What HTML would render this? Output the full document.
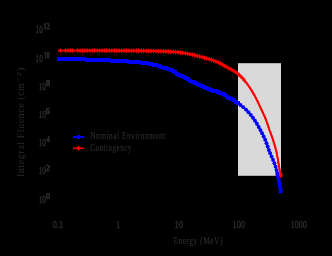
<!DOCTYPE html>
<html><head><meta charset="utf-8">
<style>
html,body{margin:0;padding:0;background:#000;width:332px;height:256px;overflow:hidden}
svg{display:block}
text{font-family:"Liberation Serif",serif;fill:#2e2e2e;stroke:#2e2e2e;stroke-width:0.15}
.tx{will-change:transform}
.dg{stroke-width:0.4px}
.sp{stroke-width:0.7px}
</style></head><body>
<svg width="332" height="256" viewBox="0 0 332 256">
<rect x="0" y="0" width="332" height="256" fill="#000"/>
<rect x="238" y="63.2" width="43" height="112.6" fill="#d9d9d9"/>
<g class="tx" opacity="0.999">
<text transform="translate(35.68,33.00) scale(0.646,1)" font-size="11.00" class="dg">10</text>
<text transform="translate(43.56,29.20) scale(0.860,1)" font-size="7.20" class="sp">12</text>
<text transform="translate(35.57,61.50) scale(0.651,1)" font-size="11.00" class="dg">10</text>
<text transform="translate(44.12,57.70) scale(0.764,1)" font-size="7.20" class="sp">10</text>
<text transform="translate(38.65,89.50) scale(0.666,1)" font-size="11.00" class="dg">10</text>
<text transform="translate(45.89,85.70) scale(1.116,1)" font-size="7.20" class="sp">8</text>
<text transform="translate(38.64,117.90) scale(0.677,1)" font-size="11.00" class="dg">10</text>
<text transform="translate(45.86,114.10) scale(1.109,1)" font-size="7.20" class="sp">6</text>
<text transform="translate(38.65,146.00) scale(0.666,1)" font-size="11.00" class="dg">10</text>
<text transform="translate(46.47,142.20) scale(0.900,1)" font-size="7.20" class="sp">4</text>
<text transform="translate(38.65,174.30) scale(0.666,1)" font-size="11.00" class="dg">10</text>
<text transform="translate(45.83,170.50) scale(1.181,1)" font-size="7.20" class="sp">2</text>
<text transform="translate(38.65,202.60) scale(0.674,1)" font-size="11.00" class="dg">10</text>
<text transform="translate(45.89,198.80) scale(1.116,1)" font-size="7.20" class="sp">0</text>
<text transform="translate(52.79,228.00) scale(0.756,1)" font-size="10.80" class="dg">0.1</text>
<text transform="translate(116.36,228.00) scale(0.725,1)" font-size="10.80" class="dg">1</text>
<text transform="translate(174.44,228.00) scale(0.795,1)" font-size="10.80" class="dg">10</text>
<text transform="translate(232.46,228.00) scale(0.776,1)" font-size="10.80" class="dg">100</text>
<text transform="translate(290.79,228.00) scale(0.746,1)" font-size="10.80" class="dg">1000</text>
<text transform="translate(173.39,244.20) scale(0.755,1)" font-size="9.80" letter-spacing="0.7" >Energy (MeV)</text>
<text transform="translate(90.29,139.10) scale(0.761,1)" font-size="9.60" letter-spacing="0.7" >Nominal Environment</text>
<text transform="translate(90.21,150.50) scale(0.735,1)" font-size="9.60" letter-spacing="0.7" >Contingency</text>
<text transform="rotate(-90) translate(-176.95,24.30) scale(0.971,1)" font-size="10.00" letter-spacing="0.7" style="stroke-width:0">Integral Fluence (cm</text>
<text transform="rotate(-90) translate(-82.29,21.00) scale(1.517,1)" font-size="6.40" style="stroke-width:0">−2</text>
<text transform="rotate(-90) translate(-70.92,24.20) scale(1.080,1)" font-size="9.40" style="stroke-width:0">)</text>
</g>
<line x1="73" y1="137" x2="84.2" y2="137" stroke="#0000ff" stroke-width="2"/>
<rect x="76.8" y="135" width="3.6" height="4" rx="1" fill="#0000ff"/>
<line x1="73" y1="148.3" x2="84.2" y2="148.3" stroke="#ff0000" stroke-width="1.5"/>
<path d="M78.5 145.6 L80.7 148.3 L78.5 151 L76.3 148.3Z" fill="#ff0000"/>
<path d="M59.18 59.20 L59.31 59.20 L59.45 59.20 L59.60 59.20 L59.76 59.20 L59.93 59.20 L60.11 59.20 L60.30 59.20 L60.50 59.20 L60.71 59.20 L60.93 59.21 L61.16 59.21 L61.40 59.21 L61.66 59.21 L61.91 59.21 L62.16 59.21 L62.41 59.21 L62.66 59.21 L62.91 59.21 L63.16 59.21 L63.41 59.22 L63.66 59.22 L63.91 59.22 L64.16 59.22 L64.41 59.22 L64.66 59.22 L64.91 59.23 L65.16 59.23 L65.41 59.23 L65.66 59.23 L65.91 59.23 L66.16 59.23 L66.41 59.24 L66.66 59.24 L66.91 59.24 L67.16 59.24 L67.41 59.25 L67.66 59.25 L67.91 59.25 L68.16 59.25 L68.41 59.25 L68.67 59.26 L68.92 59.26 L69.17 59.26 L69.42 59.26 L69.67 59.27 L69.92 59.27 L70.17 59.27 L70.42 59.28 L70.67 59.28 L70.92 59.28 L71.17 59.28 L71.42 59.29 L71.67 59.29 L71.92 59.29 L72.17 59.30 L72.42 59.30 L72.67 59.30 L72.92 59.30 L73.17 59.31 L73.42 59.31 L73.67 59.31 L73.92 59.32 L74.17 59.32 L74.42 59.32 L74.67 59.33 L74.92 59.33 L75.17 59.33 L75.42 59.34 L75.67 59.34 L75.92 59.34 L76.18 59.35 L76.43 59.35 L76.68 59.35 L76.93 59.36 L77.18 59.36 L77.43 59.36 L77.68 59.37 L77.93 59.37 L78.18 59.37 L78.43 59.38 L78.68 59.38 L78.93 59.39 L79.18 59.39 L79.43 59.39 L79.68 59.40 L79.93 59.40 L80.18 59.40 L80.43 59.41 L80.68 59.41 L80.93 59.42 L81.18 59.42 L81.43 59.43 L81.68 59.43 L81.93 59.44 L82.18 59.44 L82.43 59.44 L82.68 59.45 L82.93 59.46 L83.18 59.46 L83.43 59.47 L83.68 59.47 L83.93 59.48 L84.18 59.48 L84.43 59.49 L84.69 59.49 L84.94 59.50 L85.19 59.51 L85.44 59.51 L85.69 59.52 L85.94 59.53 L86.19 59.53 L86.44 59.54 L86.69 59.55 L86.94 59.55 L87.19 59.56 L87.44 59.57 L87.69 59.57 L87.94 59.58 L88.19 59.59 L88.44 59.60 L88.69 59.60 L88.94 59.61 L89.19 59.62 L89.44 59.63 L89.69 59.63 L89.94 59.64 L90.19 59.65 L90.44 59.66 L90.69 59.67 L90.94 59.67 L91.19 59.68 L91.44 59.69 L91.69 59.70 L91.94 59.71 L92.19 59.72 L92.44 59.73 L92.69 59.73 L92.94 59.74 L93.19 59.75 L93.44 59.76 L93.69 59.77 L93.94 59.78 L94.19 59.79 L94.45 59.80 L94.70 59.80 L94.95 59.81 L95.20 59.82 L95.45 59.83 L95.70 59.84 L95.95 59.85 L96.20 59.86 L96.45 59.87 L96.70 59.88 L96.95 59.89 L97.20 59.90 L97.45 59.91 L97.70 59.91 L97.95 59.92 L98.20 59.93 L98.45 59.94 L98.70 59.95 L98.95 59.96 L99.20 59.97 L99.45 59.98 L99.70 59.99 L99.95 60.00 L100.20 60.01 L100.45 60.02 L100.70 60.03 L100.95 60.04 L101.20 60.05 L101.45 60.06 L101.70 60.07 L101.95 60.08 L102.20 60.09 L102.45 60.10 L102.70 60.11 L102.95 60.12 L103.20 60.13 L103.45 60.14 L103.70 60.15 L103.95 60.16 L104.20 60.17 L104.45 60.18 L104.70 60.19 L104.95 60.20 L105.20 60.21 L105.45 60.22 L105.70 60.23 L105.95 60.24 L106.20 60.25 L106.45 60.27 L106.70 60.28 L106.95 60.29 L107.20 60.30 L107.45 60.31 L107.70 60.32 L107.95 60.33 L108.20 60.34 L108.45 60.36 L108.70 60.37 L108.95 60.38 L109.20 60.39 L109.45 60.40 L109.70 60.41 L109.95 60.43 L110.20 60.44 L110.45 60.45 L110.70 60.46 L110.95 60.48 L111.21 60.49 L111.46 60.50 L111.71 60.51 L111.96 60.52 L112.21 60.54 L112.46 60.55 L112.71 60.56 L112.96 60.58 L113.21 60.59 L113.46 60.60 L113.71 60.61 L113.96 60.63 L114.21 60.64 L114.46 60.65 L114.71 60.67 L114.96 60.68 L115.21 60.69 L115.46 60.71 L115.71 60.72 L115.96 60.73 L116.21 60.75 L116.46 60.76 L116.71 60.77 L116.96 60.79 L117.21 60.80 L117.46 60.82 L117.71 60.83 L117.96 60.84 L118.21 60.86 L118.46 60.87 L118.71 60.89 L118.96 60.90 L119.21 60.92 L119.46 60.93 L119.71 60.94 L119.96 60.96 L120.21 60.97 L120.46 60.99 L120.71 61.00 L120.96 61.02 L121.20 61.03 L121.45 61.05 L121.70 61.06 L121.95 61.08 L122.20 61.09 L122.45 61.11 L122.70 61.12 L122.95 61.14 L123.20 61.15 L123.45 61.17 L123.70 61.18 L123.95 61.20 L124.20 61.21 L124.45 61.23 L124.70 61.24 L124.95 61.26 L125.20 61.28 L125.45 61.29 L125.70 61.31 L125.95 61.32 L126.20 61.34 L126.45 61.36 L126.70 61.37 L126.95 61.39 L127.20 61.40 L127.45 61.42 L127.70 61.44 L127.95 61.45 L128.20 61.47 L128.45 61.49 L128.70 61.50 L128.95 61.52 L129.20 61.54 L129.45 61.55 L129.70 61.57 L129.95 61.59 L130.21 61.61 L130.46 61.62 L130.71 61.64 L130.96 61.66 L131.21 61.68 L131.46 61.69 L131.71 61.71 L131.96 61.73 L132.21 61.75 L132.46 61.77 L132.71 61.79 L132.95 61.81 L133.20 61.83 L133.45 61.85 L133.70 61.87 L133.95 61.89 L134.20 61.91 L134.45 61.93 L134.70 61.95 L134.95 61.97 L135.20 61.99 L135.45 62.01 L135.70 62.03 L135.95 62.06 L136.20 62.08 L136.45 62.10 L136.70 62.12 L136.95 62.15 L137.19 62.17 L137.44 62.19 L137.69 62.22 L137.94 62.24 L138.19 62.27 L138.44 62.29 L138.69 62.32 L138.94 62.34 L139.18 62.37 L139.43 62.39 L139.68 62.42 L139.93 62.45 L140.18 62.48 L140.43 62.51 L140.67 62.53 L140.92 62.56 L141.17 62.59 L141.42 62.62 L141.67 62.66 L141.91 62.69 L142.16 62.72 L142.41 62.75 L142.66 62.79 L142.90 62.82 L143.15 62.86 L143.40 62.89 L143.65 62.93 L143.89 62.96 L144.14 63.00 L144.39 63.04 L144.64 63.08 L144.89 63.12 L145.13 63.16 L145.38 63.20 L145.63 63.24 L145.87 63.28 L146.12 63.32 L146.37 63.37 L146.62 63.41 L146.86 63.45 L147.11 63.50 L147.36 63.54 L147.60 63.59 L147.85 63.63 L148.10 63.68 L148.34 63.73 L148.59 63.78 L148.84 63.82 L149.08 63.87 L149.33 63.92 L149.58 63.97 L149.82 64.02 L150.07 64.07 L150.31 64.12 L150.56 64.17 L150.81 64.22 L151.05 64.27 L151.30 64.33 L151.54 64.38 L151.79 64.43 L152.03 64.48 L152.28 64.54 L152.52 64.59 L152.77 64.64 L153.01 64.70 L153.26 64.75 L153.50 64.81 L153.74 64.86 L153.99 64.92 L154.23 64.97 L154.48 65.03 L154.72 65.09 L154.96 65.14 L155.21 65.20 L155.45 65.26 L155.69 65.32 L155.93 65.38 L156.18 65.43 L156.42 65.49 L156.66 65.55 L156.91 65.61 L157.15 65.67 L157.39 65.74 L157.63 65.80 L157.87 65.86 L158.12 65.92 L158.36 65.99 L158.60 66.05 L158.84 66.12 L159.08 66.18 L159.33 66.25 L159.57 66.32 L159.81 66.38 L160.05 66.45 L160.29 66.52 L160.53 66.59 L160.77 66.66 L161.01 66.73 L161.26 66.81 L161.50 66.88 L161.74 66.95 L161.98 67.03 L162.22 67.10 L162.46 67.18 L162.70 67.25 L162.93 67.33 L163.17 67.41 L163.41 67.49 L163.65 67.56 L163.89 67.64 L164.13 67.72 L164.36 67.80 L164.60 67.88 L164.84 67.97 L165.08 68.05 L165.31 68.13 L165.55 68.22 L165.78 68.30 L166.02 68.38 L166.25 68.47 L166.49 68.55 L166.72 68.64 L166.96 68.73 L167.19 68.82 L167.42 68.91 L167.65 69.00 L167.89 69.09 L168.12 69.18 L168.35 69.27 L168.58 69.36 L168.81 69.46 L169.04 69.55 L169.27 69.65 L169.50 69.75 L169.73 69.85 L169.95 69.95 L170.18 70.05 L170.41 70.15 L170.64 70.25 L170.86 70.36 L171.09 70.46 L171.31 70.57 L171.54 70.67 L171.76 70.78 L171.99 70.89 L172.21 71.00 L172.44 71.11 L172.66 71.23 L172.88 71.34 L173.11 71.45 L173.33 71.57 L173.55 71.68 L173.78 71.80 L174.00 71.91 L174.22 72.03 L174.44 72.15 L174.66 72.27 L174.88 72.38 L175.11 72.50 L175.33 72.62 L175.55 72.74 L175.77 72.86 L175.99 72.98 L176.21 73.10 L176.43 73.22 L176.65 73.34 L176.88 73.46 L177.10 73.58 L177.32 73.70 L177.54 73.82 L177.76 73.94 L177.98 74.06 L178.20 74.18 L178.42 74.29 L178.65 74.41 L178.87 74.53 L179.09 74.65 L179.31 74.77 L179.53 74.88 L179.75 75.00 L179.98 75.12 L180.20 75.23 L180.42 75.35 L180.64 75.47 L180.86 75.58 L181.09 75.70 L181.31 75.81 L181.53 75.93 L181.75 76.04 L181.98 76.16 L182.20 76.28 L182.42 76.39 L182.64 76.51 L182.87 76.62 L183.09 76.74 L183.31 76.85 L183.53 76.97 L183.76 77.08 L183.98 77.20 L184.20 77.31 L184.42 77.43 L184.64 77.54 L184.87 77.66 L185.09 77.77 L185.31 77.89 L185.53 78.01 L185.75 78.12 L185.98 78.24 L186.20 78.35 L186.42 78.47 L186.64 78.59 L186.86 78.70 L187.09 78.82 L187.31 78.93 L187.53 79.05 L187.75 79.16 L187.98 79.28 L188.20 79.39 L188.42 79.51 L188.64 79.63 L188.86 79.74 L189.09 79.86 L189.31 79.97 L189.53 80.09 L189.75 80.20 L189.98 80.32 L190.20 80.43 L190.42 80.55 L190.64 80.66 L190.87 80.77 L191.09 80.89 L191.31 81.00 L191.54 81.12 L191.76 81.23 L191.98 81.34 L192.20 81.46 L192.43 81.57 L192.65 81.68 L192.87 81.80 L193.10 81.91 L193.32 82.02 L193.55 82.13 L193.77 82.25 L193.99 82.36 L194.22 82.47 L194.44 82.58 L194.66 82.69 L194.89 82.80 L195.11 82.92 L195.34 83.03 L195.56 83.14 L195.79 83.25 L196.01 83.36 L196.24 83.47 L196.46 83.58 L196.69 83.69 L196.91 83.80 L197.14 83.91 L197.36 84.02 L197.59 84.13 L197.81 84.23 L198.04 84.34 L198.26 84.45 L198.49 84.56 L198.72 84.67 L198.94 84.78 L199.17 84.89 L199.39 84.99 L199.62 85.10 L199.85 85.21 L200.07 85.31 L200.30 85.42 L200.53 85.53 L200.75 85.63 L200.98 85.74 L201.21 85.84 L201.44 85.95 L201.66 86.05 L201.89 86.15 L202.12 86.26 L202.35 86.36 L202.58 86.46 L202.81 86.56 L203.04 86.66 L203.27 86.76 L203.50 86.85 L203.73 86.95 L203.96 87.05 L204.19 87.14 L204.42 87.24 L204.65 87.33 L204.89 87.42 L205.12 87.51 L205.35 87.61 L205.58 87.70 L205.82 87.78 L206.05 87.87 L206.29 87.96 L206.52 88.05 L206.76 88.13 L206.99 88.22 L207.23 88.31 L207.46 88.39 L207.70 88.48 L207.93 88.56 L208.17 88.64 L208.41 88.73 L208.64 88.81 L208.88 88.89 L209.11 88.98 L209.35 89.06 L209.59 89.15 L209.82 89.23 L210.06 89.31 L210.29 89.40 L210.53 89.48 L210.76 89.57 L211.00 89.66 L211.23 89.74 L211.47 89.83 L211.70 89.92 L211.94 90.00 L212.17 90.09 L212.41 90.18 L212.64 90.27 L212.87 90.36 L213.11 90.45 L213.34 90.54 L213.58 90.63 L213.81 90.72 L214.04 90.81 L214.27 90.91 L214.51 91.00 L214.74 91.09 L214.97 91.18 L215.21 91.28 L215.44 91.37 L215.67 91.46 L215.90 91.56 L216.14 91.65 L216.37 91.75 L216.60 91.84 L216.83 91.94 L217.07 92.03 L217.30 92.13 L217.53 92.22 L217.76 92.32 L218.00 92.41 L218.23 92.51 L218.46 92.61 L218.69 92.70 L218.92 92.80 L219.15 92.90 L219.39 93.00 L219.62 93.10 L219.85 93.19 L220.08 93.29 L220.31 93.39 L220.54 93.49 L220.77 93.59 L221.00 93.69 L221.23 93.79 L221.46 93.89 L221.69 93.99 L221.92 94.10 L222.15 94.20 L222.37 94.30 L222.60 94.40 L222.83 94.51 L223.06 94.61 L223.29 94.72 L223.51 94.82 L223.74 94.93 L223.97 95.03 L224.19 95.14 L224.42 95.24 L224.65 95.35 L224.87 95.46 L225.10 95.57 L225.32 95.67 L225.55 95.78 L225.77 95.89 L226.00 96.00 L226.22 96.11 L226.44 96.22 L226.66 96.34 L226.89 96.45 L227.11 96.56 L227.33 96.68 L227.55 96.79 L227.77 96.91 L227.99 97.02 L228.21 97.14 L228.43 97.26 L228.65 97.37 L228.87 97.49 L229.09 97.61 L229.31 97.73 L229.53 97.85 L229.75 97.97 L229.97 98.10 L230.18 98.22 L230.40 98.35 L230.62 98.47 L230.83 98.60 L231.05 98.72 L231.26 98.85 L231.48 98.98 L231.69 99.11 L231.91 99.24 L232.12 99.37 L232.34 99.50 L232.55 99.63 L232.77 99.76 L232.98 99.89 L233.19 100.02 L233.40 100.16 L233.62 100.29 L233.83 100.43 L234.04 100.56 L234.25 100.70 L234.46 100.83 L234.67 100.97 L234.88 101.11 L235.09 101.25 L235.30 101.38 L235.51 101.52 L235.72 101.66 L235.93 101.80 L236.14 101.94 L236.34 102.08 L236.55 102.22 L236.76 102.36 L236.97 102.50 L237.17 102.64 L237.38 102.78 L237.59 102.93 L237.79 103.07 L238.00 103.21 L238.21 103.35 L238.41 103.50 L238.62 103.64 L238.82 103.79 L239.03 103.93 L239.23 104.08 L239.44 104.22 L239.64 104.37 L239.85 104.51 L240.05 104.66 L240.25 104.81 L240.46 104.96 L240.66 105.10 L240.86 105.25 L241.06 105.40 L241.26 105.56 L241.46 105.71 L241.66 105.86 L241.86 106.01 L242.06 106.17 L242.26 106.32 L242.45 106.48 L242.65 106.63 L242.85 106.79 L243.04 106.95 L243.23 107.11 L243.42 107.27 L243.61 107.43 L243.80 107.59 L243.99 107.75 L244.18 107.91 L244.37 108.08 L244.55 108.24 L244.74 108.41 L244.92 108.58 L245.10 108.75 L245.28 108.92 L245.46 109.09 L245.64 109.26 L245.82 109.43 L246.00 109.61 L246.18 109.78 L246.35 109.96 L246.53 110.14 L246.70 110.31 L246.88 110.49 L247.05 110.67 L247.23 110.85 L247.40 111.03 L247.57 111.22 L247.74 111.40 L247.91 111.59 L248.08 111.77 L248.25 111.96 L248.42 112.14 L248.58 112.33 L248.75 112.52 L248.92 112.71 L249.08 112.90 L249.25 113.09 L249.41 113.28 L249.58 113.47 L249.74 113.67 L249.90 113.86 L250.06 114.05 L250.22 114.25 L250.38 114.44 L250.54 114.64 L250.70 114.83 L250.86 115.03 L251.01 115.23 L251.17 115.42 L251.33 115.62 L251.48 115.82 L251.63 116.02 L251.79 116.22 L251.94 116.42 L252.09 116.61 L252.24 116.81 L252.39 117.01 L252.54 117.22 L252.69 117.42 L252.84 117.62 L252.98 117.82 L253.13 118.02 L253.28 118.22 L253.42 118.43 L253.56 118.63 L253.71 118.83 L253.85 119.04 L253.99 119.24 L254.13 119.45 L254.27 119.65 L254.41 119.86 L254.55 120.07 L254.69 120.27 L254.83 120.48 L254.96 120.69 L255.10 120.90 L255.24 121.11 L255.37 121.32 L255.51 121.53 L255.64 121.74 L255.77 121.95 L255.91 122.16 L256.04 122.38 L256.17 122.59 L256.30 122.80 L256.43 123.02 L256.56 123.23 L256.69 123.45 L256.82 123.66 L256.95 123.88 L257.08 124.09 L257.21 124.31 L257.33 124.53 L257.46 124.74 L257.59 124.96 L257.71 125.18 L257.84 125.40 L257.96 125.62 L258.09 125.83 L258.21 126.05 L258.33 126.27 L258.46 126.49 L258.58 126.71 L258.70 126.93 L258.82 127.15 L258.94 127.37 L259.07 127.59 L259.19 127.81 L259.31 128.03 L259.43 128.25 L259.55 128.47 L259.67 128.69 L259.78 128.91 L259.90 129.14 L260.02 129.36 L260.14 129.58 L260.26 129.80 L260.38 130.02 L260.49 130.24 L260.61 130.46 L260.73 130.68 L260.84 130.91 L260.96 131.13 L261.08 131.35 L261.19 131.57 L261.31 131.79 L261.42 132.02 L261.54 132.24 L261.65 132.46 L261.77 132.68 L261.88 132.91 L261.99 133.13 L262.11 133.35 L262.22 133.58 L262.33 133.80 L262.45 134.02 L262.56 134.25 L262.67 134.47 L262.78 134.70 L262.89 134.92 L263.01 135.15 L263.12 135.37 L263.23 135.60 L263.34 135.82 L263.44 136.05 L263.55 136.27 L263.66 136.50 L263.77 136.73 L263.88 136.95 L263.98 137.18 L264.09 137.41 L264.19 137.64 L264.30 137.86 L264.40 138.09 L264.51 138.32 L264.61 138.55 L264.71 138.78 L264.82 139.00 L264.92 139.23 L265.02 139.46 L265.12 139.69 L265.22 139.92 L265.31 140.15 L265.41 140.38 L265.51 140.61 L265.60 140.84 L265.70 141.07 L265.79 141.31 L265.89 141.54 L265.98 141.77 L266.07 142.00 L266.16 142.23 L266.25 142.47 L266.34 142.70 L266.43 142.94 L266.51 143.17 L266.60 143.40 L266.69 143.64 L266.77 143.87 L266.85 144.11 L266.94 144.35 L267.02 144.58 L267.10 144.82 L267.18 145.06 L267.26 145.29 L267.34 145.53 L267.42 145.77 L267.50 146.00 L267.58 146.24 L267.66 146.48 L267.74 146.72 L267.82 146.96 L267.90 147.19 L267.98 147.43 L268.06 147.67 L268.14 147.91 L268.22 148.14 L268.30 148.38 L268.38 148.62 L268.46 148.86 L268.54 149.09 L268.62 149.33 L268.71 149.57 L268.79 149.80 L268.88 150.04 L268.96 150.27 L269.05 150.51 L269.13 150.74 L269.22 150.98 L269.31 151.21 L269.40 151.44 L269.49 151.68 L269.58 151.91 L269.67 152.14 L269.77 152.38 L269.86 152.61 L269.95 152.84 L270.05 153.07 L270.15 153.30 L270.24 153.53 L270.34 153.76 L270.44 153.99 L270.54 154.22 L270.64 154.45 L270.73 154.68 L270.83 154.91 L270.94 155.14 L271.04 155.37 L271.14 155.60 L271.24 155.83 L271.34 156.06 L271.44 156.29 L271.54 156.52 L271.65 156.75 L271.75 156.98 L271.85 157.21 L271.95 157.44 L272.05 157.66 L272.16 157.89 L272.26 158.12 L272.36 158.35 L272.46 158.58 L272.56 158.81 L272.66 159.04 L272.76 159.27 L272.86 159.50 L272.96 159.73 L273.06 159.96 L273.16 160.19 L273.26 160.42 L273.36 160.65 L273.45 160.88 L273.55 161.11 L273.64 161.34 L273.74 161.57 L273.83 161.81 L273.93 162.04 L274.02 162.27 L274.11 162.50 L274.20 162.74 L274.29 162.97 L274.38 163.20 L274.47 163.44 L274.55 163.67 L274.64 163.91 L274.73 164.14 L274.81 164.38 L274.90 164.61 L274.98 164.85 L275.06 165.08 L275.14 165.32 L275.22 165.56 L275.30 165.80 L275.38 166.03 L275.46 166.27 L275.53 166.51 L275.61 166.75 L275.68 166.99 L275.76 167.23 L275.83 167.47 L275.90 167.71 L275.97 167.95 L276.04 168.19 L276.11 168.43 L276.17 168.67 L276.24 168.91 L276.30 169.15 L276.37 169.39 L276.43 169.63 L276.49 169.88 L276.55 170.12 L276.61 170.36 L276.67 170.60 L276.73 170.85 L276.78 171.09 L276.84 171.34 L276.90 171.58 L276.95 171.82 L277.00 172.07 L277.06 172.31 L277.11 172.56 L277.16 172.80 L277.21 173.05 L277.26 173.29 L277.31 173.54 L277.36 173.78 L277.41 174.03 L277.46 174.27 L277.51 174.52 L277.56 174.77 L277.61 175.01 L277.66 175.26 L277.71 175.50 L277.76 175.75 L277.81 175.99 L277.86 176.24 L277.91 176.49 L277.96 176.73 L278.01 176.98 L278.06 177.22 L278.11 177.47 L278.16 177.71 L278.22 177.96 L278.27 178.20 L278.32 178.45 L278.38 178.69 L278.43 178.94 L278.49 179.18 L278.55 179.42 L278.61 179.67 L278.67 179.91 L278.73 180.15 L278.79 180.40 L278.85 180.64 L278.91 180.88 L278.97 181.13 L279.03 181.37 L279.09 181.61 L279.15 181.86 L279.21 182.10 L279.26 182.34 L279.32 182.59 L279.38 182.83 L279.43 183.07 L279.48 183.32 L279.54 183.56 L279.59 183.81 L279.63 184.05 L279.68 184.30 L279.72 184.54 L279.77 184.79 L279.81 185.03 L279.84 185.28 L279.88 185.53 L279.92 185.78 L279.95 186.02 L279.98 186.27 L280.01 186.52 L280.04 186.77 L280.07 187.02 L280.10 187.26 L280.13 187.51 L280.16 187.76 L280.19 188.01 L280.22 188.26 L280.25 188.51 L280.29 188.75 L280.32 189.00 L280.36 189.25 L280.39 189.49 L280.43 189.71 L280.46 189.93 L280.49 190.14 L280.53 190.34 L280.56 190.52 L280.59 190.70 L280.62 190.87 L280.65 191.03 L280.67 191.17 L280.70 191.31 L280.72 191.44" fill="none" stroke="#0000ff" stroke-width="1.6" stroke-linejoin="round"/>
<g fill="#0000ff" shape-rendering="crispEdges">
<rect x="57" y="57" width="4" height="4"/>
<rect x="60" y="57" width="4" height="4"/>
<rect x="62" y="57" width="4" height="4"/>
<rect x="65" y="57" width="4" height="4"/>
<rect x="67" y="57" width="4" height="4"/>
<rect x="70" y="57" width="4" height="4"/>
<rect x="72" y="57" width="4" height="4"/>
<rect x="75" y="57" width="4" height="4"/>
<rect x="77" y="57" width="4" height="4"/>
<rect x="80" y="57" width="4" height="4"/>
<rect x="82" y="57" width="4" height="4"/>
<rect x="85" y="58" width="4" height="4"/>
<rect x="87" y="58" width="4" height="4"/>
<rect x="90" y="58" width="4" height="4"/>
<rect x="92" y="58" width="4" height="4"/>
<rect x="95" y="58" width="4" height="4"/>
<rect x="97" y="58" width="4" height="4"/>
<rect x="100" y="58" width="4" height="4"/>
<rect x="102" y="58" width="4" height="4"/>
<rect x="105" y="58" width="4" height="4"/>
<rect x="107" y="58" width="4" height="4"/>
<rect x="110" y="59" width="4" height="4"/>
<rect x="112" y="59" width="4" height="4"/>
<rect x="115" y="59" width="4" height="4"/>
<rect x="117" y="59" width="4" height="4"/>
<rect x="120" y="59" width="4" height="4"/>
<rect x="122" y="59" width="4" height="4"/>
<rect x="125" y="59" width="4" height="4"/>
<rect x="127" y="60" width="4" height="4"/>
<rect x="130" y="60" width="4" height="4"/>
<rect x="132" y="60" width="4" height="4"/>
<rect x="135" y="60" width="4" height="4"/>
<rect x="137" y="60" width="4" height="4"/>
<rect x="140" y="61" width="4" height="4"/>
<rect x="142" y="61" width="4" height="4"/>
<rect x="145" y="61" width="4" height="4"/>
<rect x="147" y="62" width="4" height="4"/>
<rect x="149" y="62" width="4" height="4"/>
<rect x="152" y="63" width="4" height="4"/>
<rect x="154" y="63" width="4" height="4"/>
<rect x="157" y="64" width="4" height="4"/>
<rect x="159" y="65" width="4" height="4"/>
<rect x="162" y="66" width="4" height="4"/>
<rect x="164" y="66" width="4" height="4"/>
<rect x="166" y="67" width="4" height="4"/>
<rect x="169" y="68" width="4" height="4"/>
<rect x="171" y="69" width="4" height="4"/>
<rect x="173" y="70" width="4" height="4"/>
<rect x="175" y="72" width="4" height="4"/>
<rect x="177" y="73" width="4" height="4"/>
<rect x="180" y="74" width="4" height="4"/>
<rect x="182" y="75" width="4" height="4"/>
<rect x="184" y="76" width="4" height="4"/>
<rect x="186" y="77" width="4" height="4"/>
<rect x="188" y="79" width="4" height="4"/>
<rect x="191" y="80" width="4" height="4"/>
<rect x="193" y="81" width="4" height="4"/>
<rect x="195" y="82" width="4" height="4"/>
<rect x="197" y="83" width="4" height="4"/>
<rect x="200" y="84" width="4" height="4"/>
<rect x="202" y="85" width="4" height="4"/>
<rect x="204" y="86" width="4" height="4"/>
<rect x="207" y="87" width="4" height="4"/>
<rect x="209" y="88" width="4" height="4"/>
<rect x="211" y="89" width="4" height="4"/>
<rect x="214" y="89" width="4" height="4"/>
<rect x="216" y="90" width="4" height="4"/>
<rect x="218" y="91" width="4" height="4"/>
<rect x="221" y="92" width="4" height="4"/>
<rect x="223" y="93" width="4" height="4"/>
<rect x="225" y="95" width="4" height="4"/>
<rect x="227" y="96" width="4" height="4"/>
<rect x="229" y="97" width="4" height="4"/>
<rect x="232" y="98" width="4" height="4"/>
<rect x="234" y="100" width="4" height="4"/>
<rect x="236" y="101" width="4" height="4"/>
</g><g fill="#0000ff">
<circle cx="240.47" cy="104.96" r="1.95"/>
<circle cx="243.31" cy="107.17" r="1.95"/>
<circle cx="245.98" cy="109.59" r="1.95"/>
<circle cx="248.46" cy="112.19" r="1.95"/>
<circle cx="250.79" cy="114.94" r="1.95"/>
<circle cx="252.97" cy="117.80" r="1.95"/>
<circle cx="255.01" cy="120.76" r="1.95"/>
<circle cx="256.92" cy="123.82" r="1.95"/>
<circle cx="258.71" cy="126.94" r="1.95"/>
<circle cx="260.42" cy="130.11" r="1.95"/>
<circle cx="262.08" cy="133.30" r="1.95"/>
<circle cx="263.68" cy="136.53" r="1.95"/>
<circle cx="265.17" cy="139.81" r="1.95"/>
<circle cx="266.51" cy="143.15" r="1.95"/>
<circle cx="267.68" cy="146.55" r="1.95"/>
<circle cx="268.85" cy="149.96" r="1.95"/>
<circle cx="270.15" cy="153.31" r="1.95"/>
<circle cx="271.59" cy="156.61" r="1.95"/>
<circle cx="273.04" cy="159.91" r="1.95"/>
<circle cx="274.39" cy="163.24" r="1.95"/>
<circle cx="275.58" cy="166.64" r="1.95"/>
<circle cx="276.55" cy="170.11" r="1.95"/>
<rect x="275.43" y="171.72" width="3.8" height="3.8"/>
<rect x="276.14" y="175.25" width="3.8" height="3.8"/>
<rect x="276.95" y="178.76" width="3.8" height="3.8"/>
<rect x="277.75" y="182.27" width="3.8" height="3.8"/>
<rect x="278.26" y="185.83" width="3.8" height="3.8"/>
<rect x="278.80" y="189.39" width="3.8" height="3.8"/>
</g>
<path d="M57.98 50.60 L58.11 50.60 L58.25 50.60 L58.40 50.60 L58.56 50.60 L58.73 50.60 L58.91 50.60 L59.10 50.60 L59.30 50.60 L59.51 50.60 L59.73 50.60 L59.96 50.60 L60.20 50.60 L60.45 50.60 L60.71 50.60 L60.96 50.60 L61.21 50.60 L61.46 50.60 L61.71 50.60 L61.96 50.60 L62.21 50.60 L62.46 50.60 L62.71 50.60 L62.96 50.60 L63.21 50.60 L63.46 50.60 L63.71 50.60 L63.96 50.60 L64.21 50.60 L64.46 50.60 L64.71 50.60 L64.96 50.60 L65.21 50.60 L65.46 50.60 L65.71 50.60 L65.96 50.60 L66.21 50.60 L66.46 50.60 L66.71 50.60 L66.96 50.60 L67.21 50.60 L67.46 50.60 L67.72 50.60 L67.97 50.60 L68.22 50.60 L68.47 50.60 L68.72 50.60 L68.97 50.60 L69.22 50.60 L69.47 50.60 L69.72 50.60 L69.97 50.60 L70.22 50.60 L70.47 50.60 L70.72 50.60 L70.97 50.60 L71.22 50.60 L71.47 50.60 L71.72 50.60 L71.97 50.60 L72.22 50.60 L72.47 50.60 L72.72 50.60 L72.97 50.60 L73.22 50.60 L73.47 50.60 L73.72 50.60 L73.97 50.60 L74.22 50.60 L74.47 50.60 L74.73 50.60 L74.98 50.60 L75.23 50.60 L75.48 50.60 L75.73 50.60 L75.98 50.60 L76.23 50.60 L76.48 50.60 L76.73 50.60 L76.98 50.60 L77.23 50.60 L77.48 50.60 L77.73 50.60 L77.98 50.60 L78.23 50.60 L78.48 50.60 L78.73 50.60 L78.98 50.60 L79.23 50.60 L79.48 50.60 L79.73 50.60 L79.98 50.60 L80.23 50.60 L80.48 50.60 L80.73 50.60 L80.98 50.60 L81.23 50.60 L81.49 50.60 L81.74 50.60 L81.99 50.60 L82.24 50.60 L82.49 50.60 L82.74 50.60 L82.99 50.60 L83.24 50.60 L83.49 50.60 L83.74 50.60 L83.99 50.60 L84.24 50.60 L84.49 50.60 L84.74 50.60 L84.99 50.60 L85.24 50.60 L85.49 50.60 L85.74 50.60 L85.99 50.60 L86.24 50.60 L86.49 50.60 L86.74 50.60 L86.99 50.60 L87.24 50.60 L87.49 50.60 L87.74 50.60 L87.99 50.60 L88.24 50.60 L88.50 50.60 L88.75 50.60 L89.00 50.60 L89.25 50.60 L89.50 50.60 L89.75 50.60 L90.00 50.60 L90.25 50.60 L90.50 50.60 L90.75 50.60 L91.00 50.60 L91.25 50.60 L91.50 50.60 L91.75 50.60 L92.00 50.60 L92.25 50.60 L92.50 50.60 L92.75 50.60 L93.00 50.60 L93.25 50.60 L93.50 50.60 L93.75 50.60 L94.00 50.60 L94.25 50.60 L94.50 50.60 L94.75 50.60 L95.00 50.60 L95.25 50.60 L95.51 50.60 L95.76 50.60 L96.01 50.60 L96.26 50.60 L96.51 50.60 L96.76 50.60 L97.01 50.60 L97.26 50.60 L97.51 50.60 L97.76 50.60 L98.01 50.60 L98.26 50.60 L98.51 50.60 L98.76 50.60 L99.01 50.60 L99.26 50.60 L99.51 50.60 L99.76 50.60 L100.01 50.60 L100.26 50.60 L100.51 50.60 L100.76 50.60 L101.01 50.60 L101.26 50.60 L101.51 50.60 L101.76 50.60 L102.01 50.60 L102.27 50.60 L102.52 50.60 L102.77 50.60 L103.02 50.60 L103.27 50.60 L103.52 50.60 L103.77 50.60 L104.02 50.60 L104.27 50.60 L104.52 50.60 L104.77 50.60 L105.02 50.60 L105.27 50.60 L105.52 50.60 L105.77 50.60 L106.02 50.60 L106.27 50.60 L106.52 50.60 L106.77 50.60 L107.02 50.60 L107.27 50.61 L107.52 50.61 L107.77 50.61 L108.02 50.61 L108.27 50.61 L108.52 50.61 L108.77 50.61 L109.02 50.61 L109.28 50.61 L109.53 50.61 L109.78 50.61 L110.03 50.61 L110.28 50.61 L110.53 50.61 L110.78 50.61 L111.03 50.61 L111.28 50.61 L111.53 50.61 L111.78 50.61 L112.03 50.61 L112.28 50.61 L112.53 50.61 L112.78 50.62 L113.03 50.62 L113.28 50.62 L113.53 50.62 L113.78 50.62 L114.03 50.62 L114.28 50.62 L114.53 50.62 L114.78 50.62 L115.03 50.62 L115.28 50.62 L115.53 50.62 L115.78 50.62 L116.04 50.62 L116.29 50.62 L116.54 50.62 L116.79 50.63 L117.04 50.63 L117.29 50.63 L117.54 50.63 L117.79 50.63 L118.04 50.63 L118.29 50.63 L118.54 50.63 L118.79 50.63 L119.04 50.63 L119.29 50.63 L119.54 50.63 L119.79 50.63 L120.04 50.64 L120.29 50.64 L120.54 50.64 L120.79 50.64 L121.04 50.64 L121.29 50.64 L121.54 50.64 L121.79 50.64 L122.04 50.64 L122.29 50.64 L122.54 50.64 L122.80 50.65 L123.05 50.65 L123.30 50.65 L123.55 50.65 L123.80 50.65 L124.05 50.65 L124.30 50.65 L124.55 50.65 L124.80 50.65 L125.05 50.65 L125.30 50.65 L125.55 50.66 L125.80 50.66 L126.05 50.66 L126.30 50.66 L126.55 50.66 L126.80 50.66 L127.05 50.66 L127.30 50.66 L127.55 50.66 L127.80 50.67 L128.05 50.67 L128.30 50.67 L128.55 50.67 L128.80 50.67 L129.05 50.67 L129.30 50.67 L129.55 50.67 L129.81 50.67 L130.06 50.68 L130.31 50.68 L130.56 50.68 L130.81 50.68 L131.06 50.68 L131.31 50.68 L131.56 50.68 L131.81 50.68 L132.06 50.69 L132.31 50.69 L132.56 50.69 L132.81 50.69 L133.06 50.69 L133.31 50.69 L133.56 50.69 L133.81 50.69 L134.06 50.70 L134.31 50.70 L134.56 50.70 L134.81 50.70 L135.06 50.70 L135.31 50.70 L135.56 50.71 L135.81 50.71 L136.06 50.71 L136.31 50.71 L136.56 50.71 L136.81 50.71 L137.07 50.72 L137.32 50.72 L137.57 50.72 L137.82 50.72 L138.07 50.73 L138.32 50.73 L138.57 50.73 L138.82 50.73 L139.07 50.74 L139.32 50.74 L139.57 50.74 L139.82 50.74 L140.07 50.75 L140.32 50.75 L140.57 50.75 L140.82 50.76 L141.07 50.76 L141.32 50.76 L141.57 50.77 L141.82 50.77 L142.07 50.78 L142.32 50.78 L142.57 50.78 L142.82 50.79 L143.07 50.79 L143.32 50.79 L143.57 50.80 L143.82 50.80 L144.08 50.81 L144.33 50.81 L144.58 50.82 L144.83 50.82 L145.08 50.83 L145.33 50.83 L145.58 50.83 L145.83 50.84 L146.08 50.84 L146.33 50.85 L146.58 50.85 L146.83 50.86 L147.08 50.86 L147.33 50.87 L147.58 50.88 L147.83 50.88 L148.08 50.89 L148.33 50.89 L148.58 50.90 L148.83 50.90 L149.08 50.91 L149.33 50.91 L149.58 50.92 L149.83 50.93 L150.08 50.93 L150.33 50.94 L150.58 50.94 L150.83 50.95 L151.08 50.96 L151.34 50.96 L151.59 50.97 L151.84 50.97 L152.09 50.98 L152.34 50.99 L152.59 50.99 L152.84 51.00 L153.09 51.01 L153.34 51.01 L153.59 51.02 L153.84 51.03 L154.09 51.03 L154.34 51.04 L154.59 51.05 L154.84 51.05 L155.09 51.06 L155.34 51.07 L155.59 51.07 L155.84 51.08 L156.09 51.09 L156.34 51.09 L156.59 51.10 L156.84 51.11 L157.09 51.12 L157.34 51.12 L157.59 51.13 L157.84 51.14 L158.09 51.14 L158.34 51.15 L158.59 51.16 L158.84 51.17 L159.09 51.17 L159.34 51.18 L159.59 51.19 L159.84 51.20 L160.09 51.21 L160.34 51.21 L160.59 51.22 L160.84 51.23 L161.09 51.24 L161.34 51.25 L161.59 51.26 L161.85 51.27 L162.10 51.27 L162.35 51.28 L162.60 51.29 L162.85 51.30 L163.10 51.31 L163.35 51.32 L163.60 51.33 L163.85 51.34 L164.10 51.35 L164.35 51.37 L164.60 51.38 L164.85 51.39 L165.10 51.40 L165.35 51.41 L165.60 51.42 L165.85 51.43 L166.10 51.45 L166.35 51.46 L166.60 51.47 L166.85 51.48 L167.10 51.50 L167.35 51.51 L167.60 51.52 L167.85 51.54 L168.10 51.55 L168.35 51.56 L168.60 51.58 L168.85 51.59 L169.10 51.61 L169.35 51.62 L169.60 51.64 L169.85 51.65 L170.10 51.67 L170.35 51.68 L170.60 51.70 L170.85 51.71 L171.10 51.73 L171.35 51.75 L171.60 51.76 L171.85 51.78 L172.10 51.80 L172.35 51.81 L172.60 51.83 L172.85 51.85 L173.10 51.87 L173.35 51.88 L173.60 51.90 L173.85 51.92 L174.10 51.94 L174.35 51.96 L174.59 51.98 L174.84 52.00 L175.09 52.02 L175.34 52.04 L175.59 52.06 L175.84 52.08 L176.09 52.10 L176.34 52.13 L176.59 52.15 L176.84 52.17 L177.09 52.20 L177.34 52.22 L177.58 52.25 L177.83 52.27 L178.08 52.30 L178.33 52.33 L178.58 52.35 L178.83 52.38 L179.08 52.41 L179.33 52.44 L179.58 52.47 L179.83 52.50 L180.07 52.53 L180.32 52.56 L180.57 52.59 L180.82 52.62 L181.07 52.66 L181.32 52.69 L181.57 52.72 L181.82 52.76 L182.06 52.79 L182.31 52.83 L182.56 52.86 L182.81 52.90 L183.06 52.93 L183.30 52.97 L183.55 53.00 L183.80 53.04 L184.05 53.08 L184.30 53.12 L184.54 53.16 L184.79 53.19 L185.04 53.23 L185.29 53.27 L185.53 53.31 L185.78 53.35 L186.03 53.39 L186.27 53.43 L186.52 53.47 L186.77 53.51 L187.01 53.55 L187.26 53.60 L187.51 53.64 L187.75 53.68 L188.00 53.73 L188.24 53.77 L188.49 53.82 L188.74 53.86 L188.98 53.91 L189.23 53.96 L189.47 54.00 L189.72 54.05 L189.96 54.10 L190.21 54.15 L190.45 54.20 L190.70 54.25 L190.94 54.30 L191.18 54.36 L191.43 54.41 L191.67 54.46 L191.92 54.52 L192.16 54.58 L192.40 54.63 L192.65 54.69 L192.89 54.75 L193.14 54.81 L193.38 54.87 L193.62 54.93 L193.87 54.99 L194.11 55.05 L194.35 55.11 L194.59 55.17 L194.84 55.23 L195.08 55.29 L195.32 55.36 L195.57 55.42 L195.81 55.48 L196.05 55.55 L196.29 55.61 L196.54 55.68 L196.78 55.74 L197.02 55.80 L197.26 55.87 L197.51 55.93 L197.75 56.00 L197.99 56.06 L198.23 56.13 L198.47 56.19 L198.72 56.26 L198.96 56.32 L199.20 56.38 L199.44 56.45 L199.69 56.51 L199.93 56.58 L200.17 56.64 L200.41 56.71 L200.65 56.77 L200.90 56.84 L201.14 56.90 L201.38 56.96 L201.62 57.03 L201.87 57.09 L202.11 57.16 L202.35 57.22 L202.59 57.29 L202.83 57.35 L203.08 57.42 L203.32 57.48 L203.56 57.55 L203.80 57.61 L204.05 57.68 L204.29 57.74 L204.53 57.81 L204.77 57.87 L205.01 57.94 L205.25 58.01 L205.50 58.07 L205.74 58.14 L205.98 58.21 L206.22 58.28 L206.46 58.34 L206.70 58.41 L206.94 58.48 L207.19 58.55 L207.43 58.62 L207.67 58.69 L207.91 58.76 L208.15 58.83 L208.39 58.90 L208.63 58.97 L208.87 59.05 L209.11 59.12 L209.35 59.19 L209.58 59.27 L209.82 59.34 L210.06 59.42 L210.30 59.49 L210.54 59.57 L210.78 59.64 L211.01 59.72 L211.25 59.80 L211.49 59.88 L211.72 59.96 L211.96 60.04 L212.20 60.12 L212.43 60.20 L212.67 60.28 L212.90 60.37 L213.14 60.45 L213.38 60.54 L213.61 60.62 L213.85 60.71 L214.08 60.80 L214.31 60.88 L214.55 60.97 L214.78 61.06 L215.01 61.15 L215.25 61.25 L215.48 61.34 L215.71 61.43 L215.95 61.53 L216.18 61.62 L216.41 61.72 L216.64 61.81 L216.87 61.91 L217.10 62.01 L217.33 62.11 L217.56 62.21 L217.79 62.31 L218.02 62.41 L218.25 62.51 L218.48 62.62 L218.70 62.72 L218.93 62.82 L219.16 62.93 L219.38 63.04 L219.61 63.14 L219.83 63.25 L220.06 63.36 L220.28 63.47 L220.51 63.58 L220.73 63.70 L220.95 63.81 L221.17 63.92 L221.40 64.04 L221.62 64.16 L221.84 64.27 L222.06 64.39 L222.28 64.51 L222.50 64.63 L222.72 64.75 L222.94 64.87 L223.15 64.99 L223.37 65.12 L223.59 65.24 L223.81 65.36 L224.03 65.49 L224.24 65.61 L224.46 65.74 L224.68 65.86 L224.89 65.99 L225.11 66.12 L225.33 66.24 L225.54 66.37 L225.76 66.50 L225.98 66.62 L226.19 66.75 L226.41 66.87 L226.63 67.00 L226.85 67.12 L227.07 67.25 L227.28 67.37 L227.50 67.49 L227.72 67.62 L227.94 67.74 L228.16 67.86 L228.38 67.98 L228.60 68.11 L228.82 68.23 L229.04 68.35 L229.26 68.47 L229.49 68.59 L229.71 68.71 L229.93 68.83 L230.15 68.94 L230.37 69.06 L230.60 69.18 L230.82 69.30 L231.04 69.42 L231.27 69.54 L231.49 69.65 L231.71 69.77 L231.93 69.89 L232.15 70.01 L232.38 70.13 L232.60 70.25 L232.82 70.37 L233.04 70.50 L233.25 70.62 L233.47 70.74 L233.69 70.87 L233.90 70.99 L234.12 71.12 L234.33 71.25 L234.54 71.37 L234.76 71.51 L234.97 71.64 L235.17 71.77 L235.38 71.91 L235.59 72.04 L235.79 72.18 L236.00 72.32 L236.20 72.46 L236.40 72.60 L236.60 72.75 L236.80 72.90 L237.00 73.04 L237.19 73.19 L237.39 73.35 L237.58 73.50 L237.78 73.66 L237.97 73.81 L238.16 73.97 L238.35 74.13 L238.54 74.29 L238.73 74.46 L238.91 74.62 L239.10 74.79 L239.29 74.96 L239.47 75.13 L239.65 75.30 L239.84 75.47 L240.02 75.65 L240.20 75.82 L240.38 76.00 L240.56 76.17 L240.74 76.35 L240.92 76.53 L241.10 76.71 L241.27 76.89 L241.45 77.07 L241.62 77.26 L241.80 77.44 L241.97 77.62 L242.14 77.81 L242.31 77.99 L242.49 78.18 L242.66 78.36 L242.82 78.55 L242.99 78.74 L243.16 78.92 L243.33 79.11 L243.49 79.30 L243.66 79.49 L243.82 79.68 L243.98 79.87 L244.15 80.06 L244.31 80.25 L244.47 80.44 L244.63 80.63 L244.79 80.82 L244.95 81.01 L245.10 81.21 L245.26 81.40 L245.42 81.59 L245.57 81.79 L245.73 81.98 L245.88 82.18 L246.04 82.38 L246.19 82.57 L246.34 82.77 L246.49 82.97 L246.64 83.17 L246.80 83.37 L246.94 83.57 L247.09 83.77 L247.24 83.98 L247.39 84.18 L247.54 84.38 L247.68 84.59 L247.83 84.79 L247.98 85.00 L248.12 85.20 L248.27 85.41 L248.41 85.61 L248.55 85.82 L248.69 86.03 L248.84 86.23 L248.98 86.44 L249.12 86.65 L249.26 86.86 L249.40 87.07 L249.54 87.28 L249.68 87.49 L249.82 87.70 L249.95 87.91 L250.09 88.12 L250.23 88.33 L250.37 88.54 L250.50 88.75 L250.64 88.96 L250.77 89.17 L250.91 89.38 L251.04 89.59 L251.17 89.80 L251.31 90.02 L251.44 90.23 L251.57 90.44 L251.70 90.65 L251.83 90.87 L251.96 91.08 L252.09 91.29 L252.22 91.51 L252.35 91.72 L252.48 91.94 L252.61 92.15 L252.73 92.37 L252.86 92.58 L252.99 92.80 L253.11 93.01 L253.24 93.23 L253.36 93.45 L253.49 93.67 L253.61 93.88 L253.74 94.10 L253.86 94.32 L253.98 94.54 L254.10 94.76 L254.23 94.98 L254.35 95.20 L254.47 95.42 L254.59 95.64 L254.71 95.86 L254.83 96.08 L254.95 96.30 L255.07 96.52 L255.19 96.74 L255.30 96.96 L255.42 97.18 L255.54 97.40 L255.66 97.62 L255.77 97.84 L255.89 98.07 L256.01 98.29 L256.12 98.51 L256.24 98.73 L256.35 98.95 L256.47 99.18 L256.58 99.40 L256.70 99.62 L256.81 99.85 L256.92 100.07 L257.04 100.29 L257.15 100.52 L257.26 100.74 L257.37 100.96 L257.49 101.19 L257.60 101.41 L257.71 101.63 L257.82 101.86 L257.93 102.08 L258.04 102.31 L258.15 102.53 L258.26 102.76 L258.37 102.98 L258.48 103.21 L258.58 103.44 L258.69 103.66 L258.80 103.89 L258.91 104.11 L259.01 104.34 L259.12 104.57 L259.23 104.79 L259.33 105.02 L259.44 105.25 L259.55 105.47 L259.65 105.70 L259.76 105.93 L259.86 106.15 L259.97 106.38 L260.07 106.61 L260.18 106.84 L260.28 107.06 L260.39 107.29 L260.49 107.52 L260.60 107.75 L260.70 107.97 L260.81 108.20 L260.91 108.43 L261.02 108.66 L261.12 108.88 L261.23 109.11 L261.33 109.34 L261.44 109.57 L261.54 109.79 L261.65 110.02 L261.75 110.25 L261.86 110.48 L261.96 110.70 L262.07 110.93 L262.17 111.16 L262.28 111.39 L262.38 111.61 L262.49 111.84 L262.59 112.07 L262.70 112.29 L262.81 112.52 L262.91 112.75 L263.02 112.98 L263.12 113.20 L263.23 113.43 L263.33 113.66 L263.44 113.88 L263.55 114.11 L263.65 114.34 L263.76 114.57 L263.86 114.80 L263.96 115.02 L264.07 115.25 L264.17 115.48 L264.27 115.71 L264.38 115.94 L264.48 116.16 L264.58 116.39 L264.68 116.62 L264.78 116.85 L264.88 117.08 L264.98 117.31 L265.07 117.54 L265.17 117.77 L265.27 118.00 L265.36 118.23 L265.46 118.47 L265.55 118.70 L265.64 118.93 L265.74 119.16 L265.83 119.39 L265.92 119.63 L266.01 119.86 L266.10 120.09 L266.18 120.33 L266.27 120.56 L266.36 120.80 L266.44 121.03 L266.53 121.27 L266.61 121.50 L266.70 121.74 L266.78 121.97 L266.86 122.21 L266.94 122.45 L267.03 122.68 L267.11 122.92 L267.19 123.16 L267.27 123.39 L267.35 123.63 L267.43 123.87 L267.51 124.10 L267.59 124.34 L267.67 124.58 L267.75 124.82 L267.83 125.06 L267.91 125.29 L267.99 125.53 L268.07 125.77 L268.14 126.01 L268.22 126.24 L268.30 126.48 L268.38 126.72 L268.46 126.96 L268.54 127.19 L268.62 127.43 L268.70 127.67 L268.78 127.91 L268.87 128.14 L268.95 128.38 L269.03 128.62 L269.11 128.85 L269.19 129.09 L269.28 129.33 L269.36 129.56 L269.44 129.80 L269.53 130.03 L269.61 130.27 L269.70 130.51 L269.79 130.74 L269.87 130.98 L269.96 131.21 L270.04 131.45 L270.13 131.68 L270.22 131.92 L270.31 132.15 L270.39 132.38 L270.48 132.62 L270.57 132.85 L270.66 133.09 L270.75 133.32 L270.83 133.56 L270.92 133.79 L271.01 134.03 L271.10 134.26 L271.18 134.50 L271.27 134.73 L271.36 134.97 L271.44 135.20 L271.53 135.44 L271.61 135.67 L271.70 135.91 L271.78 136.14 L271.86 136.38 L271.95 136.61 L272.03 136.85 L272.11 137.09 L272.19 137.32 L272.27 137.56 L272.35 137.80 L272.43 138.03 L272.51 138.27 L272.59 138.51 L272.67 138.75 L272.75 138.99 L272.82 139.22 L272.90 139.46 L272.98 139.70 L273.05 139.94 L273.13 140.18 L273.21 140.42 L273.28 140.65 L273.36 140.89 L273.43 141.13 L273.50 141.37 L273.58 141.61 L273.65 141.85 L273.73 142.09 L273.80 142.33 L273.87 142.57 L273.95 142.81 L274.02 143.05 L274.09 143.29 L274.16 143.53 L274.23 143.77 L274.31 144.01 L274.38 144.25 L274.45 144.49 L274.52 144.73 L274.59 144.97 L274.67 145.21 L274.74 145.45 L274.81 145.69 L274.88 145.93 L274.95 146.17 L275.02 146.41 L275.09 146.65 L275.16 146.89 L275.23 147.13 L275.30 147.37 L275.37 147.61 L275.44 147.85 L275.51 148.09 L275.57 148.33 L275.64 148.57 L275.71 148.82 L275.77 149.06 L275.84 149.30 L275.90 149.54 L275.96 149.78 L276.03 150.03 L276.09 150.27 L276.15 150.51 L276.21 150.75 L276.27 151.00 L276.32 151.24 L276.38 151.48 L276.44 151.73 L276.49 151.97 L276.55 152.21 L276.60 152.46 L276.65 152.70 L276.70 152.95 L276.75 153.19 L276.80 153.44 L276.85 153.68 L276.90 153.93 L276.95 154.17 L277.00 154.42 L277.04 154.67 L277.09 154.91 L277.14 155.16 L277.18 155.41 L277.23 155.65 L277.27 155.90 L277.32 156.14 L277.36 156.39 L277.41 156.64 L277.45 156.88 L277.50 157.13 L277.54 157.38 L277.58 157.62 L277.63 157.87 L277.67 158.12 L277.71 158.36 L277.76 158.61 L277.80 158.86 L277.84 159.11 L277.88 159.35 L277.93 159.60 L277.97 159.85 L278.01 160.09 L278.05 160.34 L278.09 160.59 L278.13 160.83 L278.17 161.08 L278.21 161.33 L278.25 161.58 L278.29 161.82 L278.33 162.07 L278.37 162.32 L278.41 162.57 L278.45 162.81 L278.49 163.06 L278.53 163.31 L278.57 163.56 L278.61 163.80 L278.65 164.05 L278.69 164.30 L278.73 164.54 L278.77 164.79 L278.81 165.04 L278.85 165.29 L278.89 165.53 L278.93 165.78 L278.97 166.03 L279.02 166.27 L279.06 166.52 L279.10 166.77 L279.14 167.01 L279.19 167.26 L279.23 167.51 L279.28 167.75 L279.33 168.00 L279.38 168.24 L279.42 168.49 L279.47 168.73 L279.52 168.98 L279.58 169.22 L279.63 169.47 L279.68 169.71 L279.74 169.95 L279.79 170.20 L279.85 170.44 L279.91 170.68 L279.97 170.93 L280.02 171.17 L280.08 171.41 L280.15 171.66 L280.21 171.90 L280.27 172.13 L280.33 172.35 L280.38 172.57 L280.44 172.77 L280.49 172.96 L280.54 173.15 L280.58 173.32 L280.63 173.49 L280.67 173.64 L280.71 173.79 L280.75 173.92 L280.78 174.05" fill="none" stroke="#ff0000" stroke-width="1.7" stroke-linejoin="round"/>
<path d="M244.63 80.63 L244.79 80.82 L244.95 81.01 L245.10 81.21 L245.26 81.40 L245.42 81.59 L245.57 81.79 L245.73 81.98 L245.88 82.18 L246.04 82.38 L246.19 82.57 L246.34 82.77 L246.49 82.97 L246.64 83.17 L246.80 83.37 L246.94 83.57 L247.09 83.77 L247.24 83.98 L247.39 84.18 L247.54 84.38 L247.68 84.59 L247.83 84.79 L247.98 85.00 L248.12 85.20 L248.27 85.41 L248.41 85.61 L248.55 85.82 L248.69 86.03 L248.84 86.23 L248.98 86.44 L249.12 86.65 L249.26 86.86 L249.40 87.07 L249.54 87.28 L249.68 87.49 L249.82 87.70 L249.95 87.91 L250.09 88.12 L250.23 88.33 L250.37 88.54 L250.50 88.75 L250.64 88.96 L250.77 89.17 L250.91 89.38 L251.04 89.59 L251.17 89.80 L251.31 90.02 L251.44 90.23 L251.57 90.44 L251.70 90.65 L251.83 90.87 L251.96 91.08 L252.09 91.29 L252.22 91.51 L252.35 91.72 L252.48 91.94 L252.61 92.15 L252.73 92.37 L252.86 92.58 L252.99 92.80 L253.11 93.01 L253.24 93.23 L253.36 93.45 L253.49 93.67 L253.61 93.88 L253.74 94.10 L253.86 94.32 L253.98 94.54 L254.10 94.76 L254.23 94.98 L254.35 95.20 L254.47 95.42 L254.59 95.64 L254.71 95.86 L254.83 96.08 L254.95 96.30 L255.07 96.52 L255.19 96.74 L255.30 96.96 L255.42 97.18 L255.54 97.40 L255.66 97.62 L255.77 97.84 L255.89 98.07 L256.01 98.29 L256.12 98.51 L256.24 98.73 L256.35 98.95 L256.47 99.18 L256.58 99.40 L256.70 99.62 L256.81 99.85 L256.92 100.07 L257.04 100.29 L257.15 100.52 L257.26 100.74 L257.37 100.96 L257.49 101.19 L257.60 101.41 L257.71 101.63 L257.82 101.86 L257.93 102.08 L258.04 102.31 L258.15 102.53 L258.26 102.76 L258.37 102.98 L258.48 103.21 L258.58 103.44 L258.69 103.66 L258.80 103.89 L258.91 104.11 L259.01 104.34 L259.12 104.57 L259.23 104.79 L259.33 105.02 L259.44 105.25 L259.55 105.47 L259.65 105.70 L259.76 105.93 L259.86 106.15 L259.97 106.38 L260.07 106.61 L260.18 106.84 L260.28 107.06 L260.39 107.29 L260.49 107.52 L260.60 107.75 L260.70 107.97 L260.81 108.20 L260.91 108.43 L261.02 108.66 L261.12 108.88 L261.23 109.11 L261.33 109.34 L261.44 109.57 L261.54 109.79 L261.65 110.02 L261.75 110.25 L261.86 110.48 L261.96 110.70 L262.07 110.93 L262.17 111.16 L262.28 111.39 L262.38 111.61 L262.49 111.84 L262.59 112.07 L262.70 112.29 L262.81 112.52 L262.91 112.75 L263.02 112.98 L263.12 113.20 L263.23 113.43 L263.33 113.66 L263.44 113.88 L263.55 114.11 L263.65 114.34 L263.76 114.57 L263.86 114.80 L263.96 115.02 L264.07 115.25 L264.17 115.48 L264.27 115.71 L264.38 115.94 L264.48 116.16 L264.58 116.39 L264.68 116.62 L264.78 116.85 L264.88 117.08 L264.98 117.31 L265.07 117.54 L265.17 117.77 L265.27 118.00 L265.36 118.23 L265.46 118.47 L265.55 118.70 L265.64 118.93 L265.74 119.16 L265.83 119.39 L265.92 119.63 L266.01 119.86 L266.10 120.09 L266.18 120.33 L266.27 120.56 L266.36 120.80 L266.44 121.03 L266.53 121.27 L266.61 121.50 L266.70 121.74 L266.78 121.97 L266.86 122.21 L266.94 122.45 L267.03 122.68 L267.11 122.92 L267.19 123.16 L267.27 123.39 L267.35 123.63 L267.43 123.87 L267.51 124.10 L267.59 124.34 L267.67 124.58 L267.75 124.82 L267.83 125.06 L267.91 125.29 L267.99 125.53 L268.07 125.77 L268.14 126.01 L268.22 126.24 L268.30 126.48 L268.38 126.72 L268.46 126.96 L268.54 127.19 L268.62 127.43 L268.70 127.67 L268.78 127.91 L268.87 128.14 L268.95 128.38 L269.03 128.62 L269.11 128.85 L269.19 129.09 L269.28 129.33 L269.36 129.56 L269.44 129.80 L269.53 130.03 L269.61 130.27 L269.70 130.51 L269.79 130.74 L269.87 130.98 L269.96 131.21 L270.04 131.45 L270.13 131.68 L270.22 131.92 L270.31 132.15 L270.39 132.38 L270.48 132.62 L270.57 132.85 L270.66 133.09 L270.75 133.32 L270.83 133.56 L270.92 133.79 L271.01 134.03 L271.10 134.26 L271.18 134.50 L271.27 134.73 L271.36 134.97 L271.44 135.20 L271.53 135.44 L271.61 135.67 L271.70 135.91 L271.78 136.14 L271.86 136.38 L271.95 136.61 L272.03 136.85 L272.11 137.09 L272.19 137.32 L272.27 137.56 L272.35 137.80 L272.43 138.03 L272.51 138.27 L272.59 138.51 L272.67 138.75 L272.75 138.99 L272.82 139.22 L272.90 139.46 L272.98 139.70 L273.05 139.94 L273.13 140.18 L273.21 140.42 L273.28 140.65 L273.36 140.89 L273.43 141.13 L273.50 141.37 L273.58 141.61 L273.65 141.85 L273.73 142.09 L273.80 142.33 L273.87 142.57 L273.95 142.81 L274.02 143.05 L274.09 143.29 L274.16 143.53 L274.23 143.77 L274.31 144.01 L274.38 144.25 L274.45 144.49 L274.52 144.73 L274.59 144.97 L274.67 145.21 L274.74 145.45 L274.81 145.69 L274.88 145.93 L274.95 146.17 L275.02 146.41 L275.09 146.65 L275.16 146.89 L275.23 147.13 L275.30 147.37 L275.37 147.61 L275.44 147.85 L275.51 148.09 L275.57 148.33 L275.64 148.57 L275.71 148.82 L275.77 149.06 L275.84 149.30 L275.90 149.54 L275.96 149.78 L276.03 150.03 L276.09 150.27 L276.15 150.51 L276.21 150.75 L276.27 151.00 L276.32 151.24 L276.38 151.48 L276.44 151.73 L276.49 151.97 L276.55 152.21 L276.60 152.46 L276.65 152.70 L276.70 152.95 L276.75 153.19 L276.80 153.44 L276.85 153.68 L276.90 153.93 L276.95 154.17 L277.00 154.42 L277.04 154.67 L277.09 154.91 L277.14 155.16 L277.18 155.41 L277.23 155.65 L277.27 155.90 L277.32 156.14 L277.36 156.39 L277.41 156.64 L277.45 156.88 L277.50 157.13 L277.54 157.38 L277.58 157.62 L277.63 157.87 L277.67 158.12 L277.71 158.36 L277.76 158.61 L277.80 158.86 L277.84 159.11 L277.88 159.35 L277.93 159.60 L277.97 159.85 L278.01 160.09 L278.05 160.34 L278.09 160.59 L278.13 160.83 L278.17 161.08 L278.21 161.33 L278.25 161.58 L278.29 161.82 L278.33 162.07 L278.37 162.32 L278.41 162.57 L278.45 162.81 L278.49 163.06 L278.53 163.31 L278.57 163.56 L278.61 163.80 L278.65 164.05 L278.69 164.30 L278.73 164.54 L278.77 164.79 L278.81 165.04 L278.85 165.29 L278.89 165.53 L278.93 165.78 L278.97 166.03 L279.02 166.27 L279.06 166.52 L279.10 166.77 L279.14 167.01 L279.19 167.26 L279.23 167.51 L279.28 167.75 L279.33 168.00 L279.38 168.24 L279.42 168.49 L279.47 168.73 L279.52 168.98 L279.58 169.22 L279.63 169.47 L279.68 169.71 L279.74 169.95 L279.79 170.20 L279.85 170.44 L279.91 170.68 L279.97 170.93 L280.02 171.17 L280.08 171.41 L280.15 171.66 L280.21 171.90 L280.27 172.13 L280.33 172.35 L280.38 172.57 L280.44 172.77 L280.49 172.96 L280.54 173.15 L280.58 173.32 L280.63 173.49 L280.67 173.64 L280.71 173.79 L280.75 173.92 L280.78 174.05" fill="none" stroke="#ff0000" stroke-width="2.0" stroke-linejoin="round"/>
<path d="M60.43 47.90L61.98 50.60L60.43 53.30L58.88 50.60Z" fill="#ff0000"/>
<path d="M65.33 47.90L66.88 50.60L65.33 53.30L63.78 50.60Z" fill="#ff0000"/>
<path d="M67.78 47.90L69.33 50.60L67.78 53.30L66.23 50.60Z" fill="#ff0000"/>
<path d="M70.23 47.90L71.78 50.60L70.23 53.30L68.68 50.60Z" fill="#ff0000"/>
<path d="M72.68 47.90L74.23 50.60L72.68 53.30L71.13 50.60Z" fill="#ff0000"/>
<path d="M77.58 47.90L79.13 50.60L77.58 53.30L76.03 50.60Z" fill="#ff0000"/>
<path d="M80.03 47.90L81.58 50.60L80.03 53.30L78.48 50.60Z" fill="#ff0000"/>
<path d="M82.48 47.90L84.03 50.60L82.48 53.30L80.93 50.60Z" fill="#ff0000"/>
<path d="M84.93 47.90L86.48 50.60L84.93 53.30L83.38 50.60Z" fill="#ff0000"/>
<path d="M87.38 47.90L88.93 50.60L87.38 53.30L85.83 50.60Z" fill="#ff0000"/>
<path d="M89.83 47.90L91.38 50.60L89.83 53.30L88.28 50.60Z" fill="#ff0000"/>
<path d="M92.28 47.90L93.83 50.60L92.28 53.30L90.73 50.60Z" fill="#ff0000"/>
<path d="M94.73 47.90L96.28 50.60L94.73 53.30L93.18 50.60Z" fill="#ff0000"/>
<path d="M97.18 47.90L98.73 50.60L97.18 53.30L95.63 50.60Z" fill="#ff0000"/>
<path d="M99.63 47.90L101.18 50.60L99.63 53.30L98.08 50.60Z" fill="#ff0000"/>
<path d="M102.08 47.90L103.63 50.60L102.08 53.30L100.53 50.60Z" fill="#ff0000"/>
<path d="M104.53 47.90L106.08 50.60L104.53 53.30L102.98 50.60Z" fill="#ff0000"/>
<path d="M106.98 47.90L108.53 50.60L106.98 53.30L105.43 50.60Z" fill="#ff0000"/>
<path d="M109.43 47.91L110.98 50.61L109.43 53.31L107.88 50.61Z" fill="#ff0000"/>
<path d="M111.88 47.91L113.43 50.61L111.88 53.31L110.33 50.61Z" fill="#ff0000"/>
<path d="M114.33 47.92L115.88 50.62L114.33 53.32L112.78 50.62Z" fill="#ff0000"/>
<path d="M116.78 47.93L118.33 50.63L116.78 53.33L115.23 50.63Z" fill="#ff0000"/>
<path d="M119.23 47.93L120.78 50.63L119.23 53.33L117.68 50.63Z" fill="#ff0000"/>
<path d="M121.68 47.94L123.23 50.64L121.68 53.34L120.13 50.64Z" fill="#ff0000"/>
<path d="M124.13 47.95L125.68 50.65L124.13 53.35L122.58 50.65Z" fill="#ff0000"/>
<path d="M126.58 47.96L128.13 50.66L126.58 53.36L125.03 50.66Z" fill="#ff0000"/>
<path d="M129.03 47.97L130.58 50.67L129.03 53.37L127.48 50.67Z" fill="#ff0000"/>
<path d="M131.48 47.98L133.03 50.68L131.48 53.38L129.93 50.68Z" fill="#ff0000"/>
<path d="M133.93 47.99L135.48 50.69L133.93 53.39L132.38 50.69Z" fill="#ff0000"/>
<path d="M136.38 48.01L137.93 50.71L136.38 53.41L134.83 50.71Z" fill="#ff0000"/>
<path d="M138.83 48.03L140.38 50.73L138.83 53.43L137.28 50.73Z" fill="#ff0000"/>
<path d="M141.28 48.06L142.83 50.76L141.28 53.46L139.73 50.76Z" fill="#ff0000"/>
<path d="M143.73 48.10L145.28 50.80L143.73 53.50L142.18 50.80Z" fill="#ff0000"/>
<path d="M146.18 48.15L147.73 50.85L146.18 53.55L144.63 50.85Z" fill="#ff0000"/>
<path d="M148.63 48.20L150.18 50.90L148.63 53.60L147.08 50.90Z" fill="#ff0000"/>
<path d="M151.08 48.25L152.63 50.95L151.08 53.65L149.53 50.95Z" fill="#ff0000"/>
<path d="M153.53 48.32L155.08 51.02L153.53 53.72L151.98 51.02Z" fill="#ff0000"/>
<path d="M155.98 48.38L157.53 51.08L155.98 53.78L154.43 51.08Z" fill="#ff0000"/>
<path d="M158.43 48.45L159.98 51.15L158.43 53.85L156.88 51.15Z" fill="#ff0000"/>
<path d="M160.87 48.53L162.42 51.23L160.87 53.93L159.32 51.23Z" fill="#ff0000"/>
<path d="M163.32 48.62L164.87 51.32L163.32 54.02L161.77 51.32Z" fill="#ff0000"/>
<path d="M165.77 48.73L167.32 51.43L165.77 54.13L164.22 51.43Z" fill="#ff0000"/>
<path d="M168.22 48.86L169.77 51.56L168.22 54.26L166.67 51.56Z" fill="#ff0000"/>
<path d="M170.66 49.00L172.21 51.70L170.66 54.40L169.11 51.70Z" fill="#ff0000"/>
<path d="M173.11 49.17L174.66 51.87L173.11 54.57L171.56 51.87Z" fill="#ff0000"/>
<path d="M175.55 49.36L177.10 52.06L175.55 54.76L174.00 52.06Z" fill="#ff0000"/>
<path d="M177.99 49.59L179.54 52.29L177.99 54.99L176.44 52.29Z" fill="#ff0000"/>
<path d="M180.42 49.87L181.97 52.57L180.42 55.27L178.87 52.57Z" fill="#ff0000"/>
<path d="M182.85 50.20L184.40 52.90L182.85 55.60L181.30 52.90Z" fill="#ff0000"/>
<path d="M185.27 50.57L186.82 53.27L185.27 55.97L183.72 53.27Z" fill="#ff0000"/>
<path d="M187.69 50.97L189.24 53.67L187.69 56.37L186.14 53.67Z" fill="#ff0000"/>
<path d="M190.10 51.43L191.65 54.13L190.10 56.83L188.55 54.13Z" fill="#ff0000"/>
<path d="M192.49 51.95L194.04 54.65L192.49 57.35L190.94 54.65Z" fill="#ff0000"/>
<path d="M194.87 52.54L196.42 55.24L194.87 57.94L193.32 55.24Z" fill="#ff0000"/>
<path d="M197.24 53.16L198.79 55.86L197.24 58.56L195.69 55.86Z" fill="#ff0000"/>
<path d="M199.61 53.79L201.16 56.49L199.61 59.19L198.06 56.49Z" fill="#ff0000"/>
<path d="M201.97 54.42L203.52 57.12L201.97 59.82L200.42 57.12Z" fill="#ff0000"/>
<path d="M204.34 55.06L205.89 57.76L204.34 60.46L202.79 57.76Z" fill="#ff0000"/>
<path d="M206.70 55.71L208.25 58.41L206.70 61.11L205.15 58.41Z" fill="#ff0000"/>
<path d="M209.05 56.40L210.60 59.10L209.05 61.80L207.50 59.10Z" fill="#ff0000"/>
<path d="M211.39 57.14L212.94 59.84L211.39 62.54L209.84 59.84Z" fill="#ff0000"/>
<path d="M213.70 57.95L215.25 60.65L213.70 63.35L212.15 60.65Z" fill="#ff0000"/>
<path d="M215.98 58.84L217.53 61.54L215.98 64.24L214.43 61.54Z" fill="#ff0000"/>
<path d="M218.23 59.81L219.78 62.51L218.23 65.21L216.68 62.51Z" fill="#ff0000"/>
<path d="M220.45 60.86L222.00 63.56L220.45 66.26L218.90 63.56Z" fill="#ff0000"/>
<path d="M222.62 61.99L224.17 64.69L222.62 67.39L221.07 64.69Z" fill="#ff0000"/>
<path d="M224.75 63.21L226.30 65.91L224.75 68.61L223.20 65.91Z" fill="#ff0000"/>
<path d="M226.87 64.43L228.42 67.13L226.87 69.83L225.32 67.13Z" fill="#ff0000"/>
<path d="M229.00 65.63L230.55 68.33L229.00 71.03L227.45 68.33Z" fill="#ff0000"/>
<path d="M231.17 66.78L232.72 69.48L231.17 72.18L229.62 69.48Z" fill="#ff0000"/>
<path d="M233.32 67.95L234.87 70.65L233.32 73.35L231.77 70.65Z" fill="#ff0000"/>
<path d="M235.41 69.22L236.96 71.92L235.41 74.62L233.86 71.92Z" fill="#ff0000"/>
<path d="M237.40 70.66L238.95 73.36L237.40 76.06L235.85 73.36Z" fill="#ff0000"/>
<path d="M239.27 72.24L240.82 74.94L239.27 77.64L237.72 74.94Z" fill="#ff0000"/>
<path d="M241.03 73.94L242.58 76.64L241.03 79.34L239.48 76.64Z" fill="#ff0000"/>
<path d="M242.71 75.72L244.26 78.42L242.71 81.12L241.16 78.42Z" fill="#ff0000"/>
<path d="M244.33 77.57L245.88 80.27L244.33 82.97L242.78 80.27Z" fill="#ff0000"/>
<ellipse cx="280.8" cy="174.9" rx="1.8" ry="2.5" fill="#ff0000"/>
</svg>
</body></html>
